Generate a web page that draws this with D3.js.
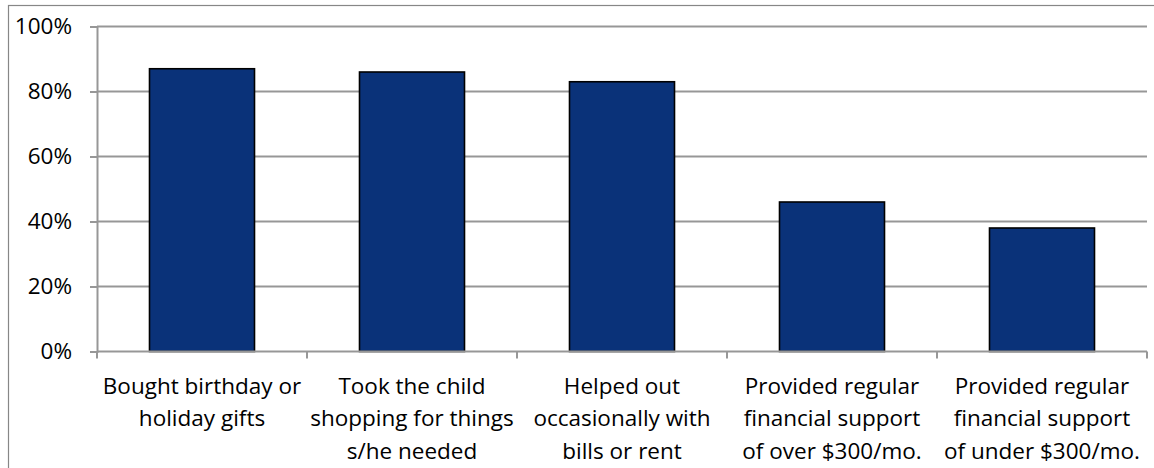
<!DOCTYPE html>
<html>
<head>
<meta charset="utf-8">
<script src="https://cdn.jsdelivr.net/npm/d3@7"></script>
<style>
  html, body { margin: 0; padding: 0; background: #fff; }
  svg { display: block; }
  text { font-family: "Open Sans", "Noto Sans", sans-serif; fill: #000; }
</style>
</head>
<body>
<svg id="chart" width="1154" height="468"></svg>
<script>
// Forms of support given, share of respondents
const categories = [
  ["Bought birthday or", "holiday gifts"],
  ["Took the child", "shopping for things", "s/he needed"],
  ["Helped out", "occasionally with", "bills or rent"],
  ["Provided regular", "financial support", "of over $300/mo."],
  ["Provided regular", "financial support", "of under $300/mo."]
];
const values = [0.87, 0.86, 0.83, 0.46, 0.38];
const yTicks = [0, 0.2, 0.4, 0.6, 0.8, 1.0];

const svg = d3.select("#chart");
const W = 1154, H = 468;
const plotLeft = 97, plotRight = 1147, plotTop = 26.5, plotBottom = 351.5;
const fontFamily = "'Open Sans', 'Noto Sans', sans-serif";
const fontSize = 22.5;

// outer chart frame
svg.append("rect")
  .attr("x", 8.5).attr("y", 5.5)
  .attr("width", W).attr("height", H)
  .attr("fill", "none").attr("stroke", "#878787").attr("stroke-width", 1.2);

const keys = categories.map((d, i) => i);
const x = d3.scaleBand().domain(keys).range([plotLeft, plotRight])
  .paddingInner(0.5).paddingOuter(0.25);
const y = d3.scaleLinear().domain([0, 1]).range([plotBottom, plotTop]);

// horizontal gridlines
svg.append("g")
  .selectAll("line").data(yTicks.filter(t => t > 0)).join("line")
  .attr("x1", plotLeft).attr("x2", plotRight)
  .attr("y1", d => y(d)).attr("y2", d => y(d))
  .attr("stroke", "#979797").attr("stroke-width", 2);

// y axis
const yAxis = svg.append("g")
  .attr("transform", `translate(${plotLeft},0)`)
  .call(d3.axisLeft(y).tickValues(yTicks).tickFormat(d3.format(".0%")).tickSize(7).tickPadding(18));
yAxis.select(".domain").attr("stroke", "#979797").attr("stroke-width", 2);
yAxis.selectAll(".tick line").attr("stroke", "#979797").attr("stroke-width", 2);
yAxis.selectAll(".tick text")
  .attr("font-size", fontSize)
  .style("font-family", fontFamily)
  .attr("fill", "#000");

// bars
svg.append("g")
  .selectAll("rect").data(values).join("rect")
  .attr("x", (d, i) => x(i))
  .attr("y", d => y(d))
  .attr("width", x.bandwidth())
  .attr("height", d => y(0) - y(d))
  .attr("fill", "#0a3279")
  .attr("stroke", "#000").attr("stroke-width", 1.6);

// x axis baseline and category dividers
const bounds = d3.range(categories.length + 1).map(i => plotLeft + i * (plotRight - plotLeft) / categories.length);
svg.append("line")
  .attr("x1", plotLeft).attr("x2", plotRight)
  .attr("y1", plotBottom).attr("y2", plotBottom)
  .attr("stroke", "#979797").attr("stroke-width", 2);
svg.append("g")
  .selectAll("line").data(bounds).join("line")
  .attr("x1", d => d).attr("x2", d => d)
  .attr("y1", plotBottom).attr("y2", plotBottom + 7)
  .attr("stroke", "#979797").attr("stroke-width", 2);

// category labels
const lab = svg.append("g")
  .selectAll("text").data(categories).join("text")
  .attr("text-anchor", "middle")
  .attr("font-size", fontSize)
  .style("font-family", fontFamily)
  .attr("x", (d, i) => x(i) + x.bandwidth() / 2)
  .attr("y", 393.5);
lab.selectAll("tspan").data(d => d).join("tspan")
  .attr("x", function() { return d3.select(this.parentNode).attr("x"); })
  .attr("dy", (d, i) => i === 0 ? 0 : 32.5)
  .text(d => d);
</script>
</body>
</html>
